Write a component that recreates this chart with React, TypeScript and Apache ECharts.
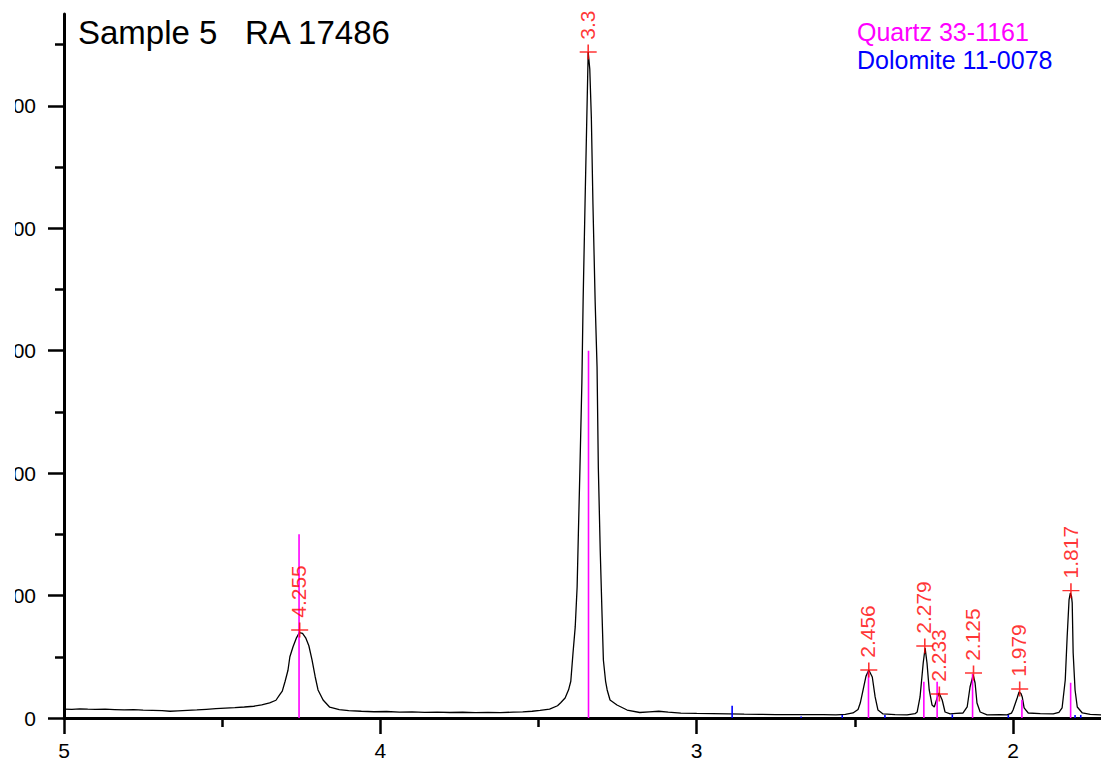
import React, { useEffect, useRef } from "react";
import * as echarts from "echarts";

// Measured XRD profile: [d-spacing (Å), counts]
const profile: [number, number][] = [
  [5.0, 73], [4.975, 71], [4.95, 75], [4.925, 72], [4.9, 70], [4.87, 72], [4.84, 69], [4.81, 66],
  [4.78, 68], [4.75, 64], [4.72, 63], [4.69, 60], [4.665, 55], [4.64, 59], [4.61, 63], [4.58, 66],
  [4.55, 71], [4.52, 76], [4.49, 81], [4.46, 85], [4.43, 90], [4.4, 96], [4.375, 108], [4.35, 124],
  [4.33, 145], [4.318, 190], [4.31, 220], [4.301, 300], [4.292, 390], [4.286, 500], [4.276, 582],
  [4.266, 650], [4.256, 698], [4.246, 692], [4.236, 655], [4.226, 590], [4.216, 474], [4.206, 337],
  [4.197, 229], [4.181, 147], [4.16, 88], [4.13, 68], [4.1, 60], [4.06, 55], [4.02, 51], [3.98, 53],
  [3.94, 48], [3.9, 50], [3.86, 46], [3.82, 48], [3.78, 45], [3.74, 47], [3.7, 44], [3.66, 46],
  [3.62, 44], [3.58, 48], [3.55, 50], [3.52, 55], [3.495, 62], [3.465, 72], [3.44, 100], [3.43, 125],
  [3.416, 163], [3.405, 230], [3.398, 300], [3.391, 531], [3.384, 744], [3.378, 1070], [3.374, 1511],
  [3.369, 2050], [3.363, 2737], [3.359, 3415], [3.353, 4200], [3.347, 4950], [3.343, 5440],
  [3.338, 5300], [3.333, 4900], [3.328, 4200], [3.321, 3400], [3.315, 2868], [3.311, 2050],
  [3.305, 1372], [3.299, 825], [3.295, 474], [3.288, 300], [3.283, 229], [3.274, 147], [3.252, 106],
  [3.22, 65], [3.18, 45], [3.15, 50], [3.12, 55], [3.09, 48], [3.05, 40], [3.0, 37], [2.95, 35],
  [2.9, 33], [2.85, 31], [2.8, 30], [2.75, 28], [2.7, 28], [2.65, 27], [2.6, 27], [2.56, 26],
  [2.53, 30], [2.506, 41], [2.49, 70], [2.483, 122], [2.474, 229], [2.465, 340], [2.456, 392],
  [2.445, 335], [2.436, 172], [2.427, 65], [2.411, 33], [2.373, 28], [2.335, 25], [2.31, 35],
  [2.303, 50], [2.294, 172], [2.284, 449], [2.278, 572], [2.272, 449], [2.265, 229], [2.256, 106],
  [2.249, 90], [2.24, 163], [2.234, 204], [2.224, 147], [2.215, 49], [2.199, 33], [2.18, 37],
  [2.158, 41], [2.145, 90], [2.136, 253], [2.126, 351], [2.12, 286], [2.114, 122], [2.104, 49],
  [2.082, 25], [2.041, 28], [2.019, 25], [2.005, 40], [2.0, 65], [1.987, 163], [1.981, 212],
  [1.975, 200], [1.971, 172], [1.965, 82], [1.952, 41], [1.914, 35], [1.873, 33], [1.855, 45],
  [1.845, 82], [1.835, 310], [1.829, 662], [1.823, 964], [1.819, 1021], [1.815, 990], [1.813, 940],
  [1.81, 531], [1.804, 229], [1.797, 90], [1.781, 41], [1.756, 30], [1.722, 25],
];

// Reference sticks
const quartzD = [4.257, 3.342, 2.457, 2.282, 2.24, 2.128, 1.972, 1.818];
const quartzI = [1500, 3000, 380, 297, 297, 360, 150, 288];
const dolomiteD = [2.888, 2.67, 2.54, 2.405, 2.192, 2.015, 1.804, 1.786];
const dolomiteI = [100, 12, 25, 25, 30, 25, 25, 25];

// Peak picks
const peakLabels = ["4.255", "3.3", "2.456", "2.279", "2.233", "2.125", "1.979", "1.817"];
const peakD = [4.255, 3.343, 2.456, 2.279, 2.233, 2.125, 1.979, 1.817];
const peakI = [719, 5440, 392, 588, 196, 367, 237, 1040];

// Axes
const xMin = 1.722;
const xMax = 5;
const xMajor = [5, 4, 3, 2];
const xMinor = [4.5, 3.5, 2.5];
const yMin = 0;
const yMax = 5750;
const yMajor = [0, 1000, 2000, 3000, 4000, 5000];
const yMinor = [500, 1500, 2500, 3500, 4500, 5500];

const titleText = "Sample 5   RA 17486";
const legendQuartz = "Quartz 33-1161";
const legendDolomite = "Dolomite 11-0078";

const FONT = "'Liberation Sans', Arial, Helvetica, sans-serif";

function stickSeries(name: string, ds: number[], is: number[], color: string) {
  return {
    type: "custom",
    name,
    xAxisIndex: 0,
    yAxisIndex: 0,
    z: 3,
    data: ds.map((d, i) => [d, is[i]]),
    renderItem: (_params: any, api: any) => {
      const x = api.value(0);
      const v = api.value(1);
      const p0 = api.coord([x, 0]);
      const p1 = api.coord([x, v]);
      return {
        type: "line",
        shape: { x1: p0[0], y1: p0[1], x2: p1[0], y2: p1[1] },
        style: { stroke: color, lineWidth: 1.6 },
      };
    },
  };
}

export default function App() {
  const ref = useRef<HTMLDivElement>(null);
  useEffect(() => {
    if (!ref.current) return;
    const chart = echarts.init(ref.current, undefined, { renderer: "svg" });
    const axisCommon = { type: "value" as const, splitLine: { show: false } };
    chart.setOption({
      animation: false,
      backgroundColor: "#ffffff",
      grid: { left: 49, right: 0, top: 14, bottom: 49, containLabel: false, outerBoundsMode: "none" },
      xAxis: [
        {
          ...axisCommon,
          min: xMin,
          max: xMax,
          inverse: true,
          position: "bottom",
          axisLine: { onZero: false, lineStyle: { color: "#000", width: 3 } },
          axisTick: { customValues: xMajor, length: 16, lineStyle: { color: "#000", width: 2.5 } },
          axisLabel: {
            customValues: xMajor,
            formatter: (v: number) => String(v),
            fontSize: 21,
            fontFamily: FONT,
            color: "#000",
            margin: 22,
          },
        },
        {
          ...axisCommon,
          min: xMin,
          max: xMax,
          inverse: true,
          position: "bottom",
          axisLine: { show: false, onZero: false },
          axisTick: { customValues: xMinor, length: 9, lineStyle: { color: "#000", width: 2.5 } },
          axisLabel: { show: false },
        },
      ],
      yAxis: [
        {
          ...axisCommon,
          min: yMin,
          max: yMax,
          position: "left",
          axisLine: { onZero: false, lineStyle: { color: "#000", width: 3 } },
          axisTick: { customValues: yMajor, length: 16, lineStyle: { color: "#000", width: 2.5 } },
          axisLabel: {
            customValues: yMajor,
            formatter: (v: number) => String(v),
            fontSize: 21,
            fontFamily: FONT,
            color: "#000",
            margin: 28,
          },
        },
        {
          ...axisCommon,
          min: yMin,
          max: yMax,
          position: "left",
          axisLine: { show: false, onZero: false },
          axisTick: { customValues: yMinor, length: 9, lineStyle: { color: "#000", width: 2.5 } },
          axisLabel: { show: false },
        },
      ],
      series: [
        {
          type: "line",
          name: "profile",
          xAxisIndex: 0,
          yAxisIndex: 0,
          data: profile,
          showSymbol: false,
          symbol: "none",
          lineStyle: { color: "#000", width: 1.3 },
          z: 2,
        },
        stickSeries("Quartz", quartzD, quartzI, "#ff00ff"),
        stickSeries("Dolomite", dolomiteD, dolomiteI, "#0000ff"),
        {
          type: "scatter",
          name: "peaks",
          xAxisIndex: 0,
          yAxisIndex: 0,
          z: 5,
          symbol: "path://M8 0 L8 14 M0 7 L16 7",
          symbolSize: [17, 15],
          itemStyle: { color: "transparent", borderColor: "#ff0000", borderWidth: 1.5 },
          data: peakD.map((d, i) => ({ value: [d, peakI[i]], name: peakLabels[i] })),
          label: {
            show: true,
            formatter: "{b}",
            position: [8.5, -4],
            rotate: 90,
            align: "left",
            verticalAlign: "middle",
            fontSize: 21,
            fontFamily: FONT,
            color: "#ff0000",
          },
        },
      ],
      graphic: [
        {
          type: "text",
          x: 63,
          y: 32,
          style: { text: titleText, fontSize: 33, fontFamily: FONT, fill: "#000", align: "left", verticalAlign: "middle" },
        },
        {
          type: "text",
          x: 842,
          y: 32,
          style: { text: legendQuartz, fontSize: 25, fontFamily: FONT, fill: "#ff00ff", align: "left", verticalAlign: "middle" },
        },
        {
          type: "text",
          x: 842,
          y: 60,
          style: { text: legendDolomite, fontSize: 25, fontFamily: FONT, fill: "#0000ff", align: "left", verticalAlign: "middle" },
        },
      ],
    });
    return () => chart.dispose();
  }, []);
  return (
    <div
      ref={ref}
      style={{ position: "absolute", left: 15, top: 0, width: 1086, height: 767, overflow: "hidden" }}
    />
  );
}
